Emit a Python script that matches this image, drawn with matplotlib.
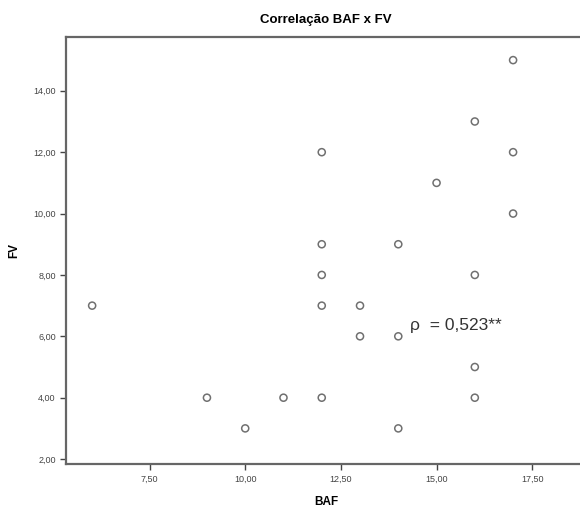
import matplotlib.pyplot as plt
from matplotlib.ticker import FuncFormatter

plt.rcParams['font.family'] = ['Liberation Sans', 'DejaVu Sans']

baf = [6, 9, 10, 11, 12, 12, 12, 12, 12, 13, 13, 14, 14, 14, 15, 16, 16, 16, 16, 17, 17, 17]
fv = [7, 4, 3, 4, 12, 9, 8, 7, 4, 7, 6, 9, 6, 3, 11, 13, 8, 5, 4, 15, 12, 10]

xticks = [7.5, 10.0, 12.5, 15.0, 17.5]
yticks = [2, 4, 6, 8, 10, 12, 14]

fig = plt.figure(figsize=(5.8, 5.11), dpi=100)
ax = fig.add_axes([0.114, 0.092, 0.896, 0.836])

ax.scatter(baf, fv, s=26, facecolors='none', edgecolors='#707070', linewidths=1.1)

ax.set_xlim(5.32, 18.9)
ax.set_ylim(1.84, 15.76)
ax.set_xticks(xticks)
ax.set_yticks(yticks)
comma = FuncFormatter(lambda v, p: ('%.2f' % v).replace('.', ','))
ax.xaxis.set_major_formatter(comma)
ax.yaxis.set_major_formatter(comma)
ax.tick_params(labelsize=6.5, colors='#444444', length=4, width=1)

for s in ['left', 'top', 'bottom', 'right']:
    ax.spines[s].set_color('#666666')
    ax.spines[s].set_linewidth(1.6)

ax.set_title('Correlação BAF x FV', fontsize=9.5, fontweight='bold', pad=10)
ax.set_xlabel('BAF', fontsize=8.5, fontweight='bold', labelpad=9)
ax.set_ylabel('FV', fontsize=8.5, fontweight='bold', labelpad=9)

ax.text(14.3, 6.35, 'ρ  = 0,523**', fontsize=12.5, color='#333333', va='center', ha='left')

fig.savefig('out.png', dpi=100)
